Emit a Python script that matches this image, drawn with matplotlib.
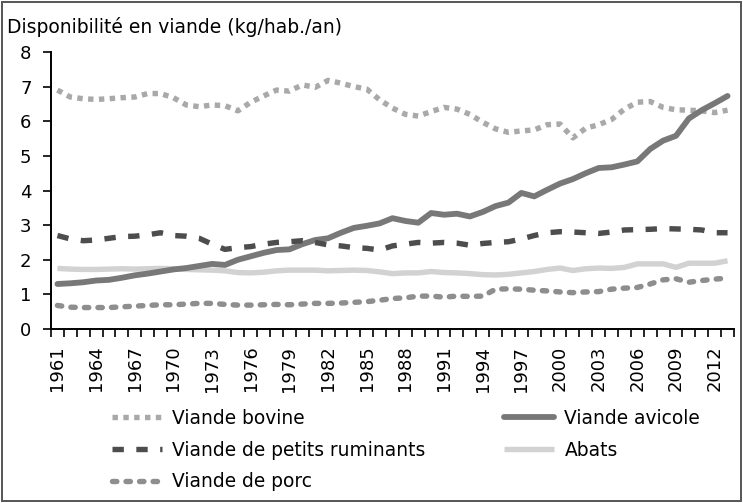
import numpy as np
import matplotlib
matplotlib.use("Agg")
import matplotlib.pyplot as plt
from matplotlib.patches import Rectangle

years = list(range(1961, 2014))

bovine = [6.9, 6.7, 6.65, 6.63, 6.65, 6.68, 6.7, 6.8, 6.8, 6.68,
          6.47, 6.42, 6.47, 6.45, 6.3, 6.55, 6.73, 6.9, 6.87, 7.05,
          6.98, 7.18, 7.1, 7.0, 6.93, 6.62, 6.38, 6.2, 6.15, 6.28,
          6.4, 6.35, 6.2, 5.97, 5.78, 5.68, 5.72, 5.75, 5.9, 5.92,
          5.52, 5.8, 5.9, 6.05, 6.35, 6.55, 6.57, 6.4, 6.33, 6.32,
          6.3, 6.25, 6.32]
avicole = [1.3, 1.32, 1.35, 1.4, 1.42, 1.48, 1.55, 1.6, 1.66, 1.72,
           1.76, 1.82, 1.88, 1.85, 2.0, 2.1, 2.2, 2.28, 2.3, 2.45,
           2.57, 2.62, 2.78, 2.92, 2.98, 3.05, 3.2, 3.12, 3.07, 3.35,
           3.3, 3.33, 3.25, 3.38, 3.55, 3.65, 3.93, 3.83, 4.02, 4.2,
           4.33, 4.5, 4.65, 4.67, 4.75, 4.84, 5.2, 5.44, 5.58, 6.08,
           6.32, 6.52, 6.73]
ruminants = [2.7, 2.6, 2.55, 2.57, 2.62, 2.67, 2.68, 2.72, 2.78, 2.7,
             2.68, 2.62, 2.45, 2.3, 2.35, 2.38, 2.45, 2.5, 2.52, 2.55,
             2.5, 2.43, 2.4, 2.35, 2.33, 2.28, 2.4, 2.45, 2.5, 2.48,
             2.5, 2.48, 2.42, 2.47, 2.5, 2.52, 2.6, 2.7, 2.78, 2.81,
             2.8, 2.78, 2.76, 2.8, 2.86, 2.87, 2.88, 2.9, 2.89, 2.88,
             2.86, 2.78, 2.78]
abats = [1.75, 1.73, 1.72, 1.72, 1.73, 1.74, 1.73, 1.74, 1.75, 1.74,
         1.72, 1.71, 1.7, 1.68, 1.63, 1.62, 1.64, 1.68, 1.7, 1.7,
         1.7, 1.68, 1.69, 1.7, 1.69, 1.65, 1.6, 1.62, 1.62, 1.66,
         1.63, 1.62, 1.6, 1.57, 1.56, 1.58, 1.62, 1.66, 1.72, 1.76,
         1.69, 1.74, 1.76, 1.75, 1.78, 1.88, 1.88, 1.88, 1.78, 1.9,
         1.9, 1.9, 1.97]
porc = [0.68, 0.63, 0.62, 0.62, 0.62, 0.64, 0.66, 0.68, 0.7, 0.7,
        0.72, 0.74, 0.74, 0.71, 0.69, 0.69, 0.7, 0.71, 0.7, 0.72,
        0.74, 0.74, 0.75, 0.77, 0.79, 0.83, 0.88, 0.9, 0.95, 0.95,
        0.92, 0.95, 0.94, 0.95, 1.15, 1.16, 1.15, 1.12, 1.1, 1.07,
        1.05, 1.07, 1.08, 1.15, 1.18, 1.2, 1.3, 1.42, 1.45, 1.35,
        1.4, 1.44, 1.47]

labels = ["Viande bovine", "Viande de petits ruminants", "Viande de porc",
          "Viande avicole", "Abats"]
title = "Disponibilité en viande (kg/hab./an)"
yticks = [0, 1, 2, 3, 4, 5, 6, 7, 8]

plt.rcParams['font.family'] = ['DejaVu Sans']

fig = plt.figure(figsize=(7.43, 5.03), dpi=100)
ax = fig.add_axes([51/743, 1-329/503, (734-51)/743, (329-52)/503])

x = np.arange(len(years))
lw = 3.9
l_abats, = ax.plot(x, abats, color='#d2d2d2', lw=lw, solid_capstyle='butt', zorder=2)
l_porc, = ax.plot(x, porc, color='#8e8e8e', lw=lw, linestyle=(0, (0.8, 1.7)),
                  dash_capstyle='round', zorder=3)
l_bov, = ax.plot(x, bovine, color='#a9a9a9', lw=lw, linestyle=(0, (1.0, 1.0)),
                 dash_capstyle='butt', zorder=3)
l_avi, = ax.plot(x, avicole, color='#787878', lw=4.2, solid_capstyle='round', zorder=4)
l_rum, = ax.plot(x, ruminants, color='#4d4d4d', lw=lw, linestyle=(0, (2.1, 2.3)),
                 dash_capstyle='butt', zorder=5)

ax.set_xlim(-0.5, len(years) - 0.5)
ax.set_ylim(0, 8)
ax.set_yticks(yticks)
ax.set_yticklabels([str(v) for v in yticks])

ax.set_xticks(x[::3])
ax.set_xticklabels([str(y) for y in years[::3]], rotation=90)
ax.set_xticks(np.arange(-0.5, len(years), 1), minor=True)
ax.tick_params(axis='x', which='major', length=0, pad=12, labelsize=13)
ax.tick_params(axis='x', which='minor', length=6, width=1.2, direction='out')
ax.tick_params(axis='y', length=6, width=1.2, pad=8, labelsize=13)

for s in ['top', 'right']:
    ax.spines[s].set_visible(False)
for s in ['left', 'bottom']:
    ax.spines[s].set_linewidth(1.4)

fig.text(7/743, 1-33/503, title, fontsize=13.5, ha='left', va='baseline')

handles = [l_bov, l_rum, l_porc, l_avi, l_abats]
fig.legend(handles, labels, ncol=2, loc='upper left',
           bbox_to_anchor=(112/743, 1-409/503), frameon=False,
           fontsize=13.4, handlelength=2.7, handletextpad=0.55,
           columnspacing=4.2, labelspacing=0.68, borderpad=0, borderaxespad=0)

fig.patches.append(Rectangle((2/743, 2/503), 739/743, 499/503, transform=fig.transFigure,
                             fill=False, edgecolor='#555555', lw=1.4))

fig.savefig('out.png', dpi=100)
